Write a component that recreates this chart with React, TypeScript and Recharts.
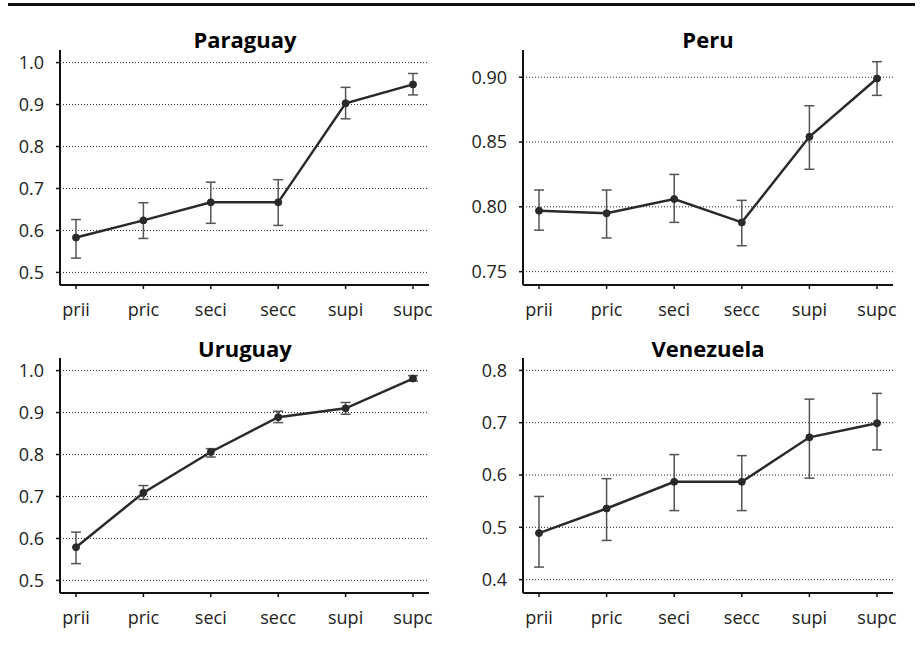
import React from 'react';
import { LineChart, Line, XAxis, YAxis, CartesianGrid, ErrorBar } from 'recharts';

const categories = ['prii', 'pric', 'seci', 'secc', 'supi', 'supc'];

const paraguayMean = [0.583, 0.624, 0.667, 0.667, 0.903, 0.948];
const paraguayLow = [0.534, 0.581, 0.617, 0.612, 0.866, 0.923];
const paraguayHigh = [0.626, 0.666, 0.715, 0.721, 0.941, 0.974];

const peruMean = [0.797, 0.795, 0.806, 0.788, 0.854, 0.899];
const peruLow = [0.782, 0.776, 0.788, 0.77, 0.829, 0.886];
const peruHigh = [0.813, 0.813, 0.825, 0.805, 0.878, 0.912];

const uruguayMean = [0.579, 0.709, 0.806, 0.889, 0.91, 0.981];
const uruguayLow = [0.54, 0.693, 0.794, 0.876, 0.896, 0.975];
const uruguayHigh = [0.615, 0.726, 0.814, 0.903, 0.924, 0.988];

const venezuelaMean = [0.489, 0.536, 0.587, 0.587, 0.672, 0.699];
const venezuelaLow = [0.424, 0.475, 0.532, 0.532, 0.594, 0.648];
const venezuelaHigh = [0.559, 0.593, 0.639, 0.637, 0.745, 0.756];

const ticksTenths = [0.5, 0.6, 0.7, 0.8, 0.9, 1.0];
const ticksPeru = [0.75, 0.8, 0.85, 0.9];
const ticksVenezuela = [0.4, 0.5, 0.6, 0.7, 0.8];

const FONT = "'Open Sans', sans-serif";
const INK = '#2a2a2a';

function build(mean: number[], low: number[], high: number[]) {
  return categories.map((c, i) => ({
    cat: c,
    value: mean[i],
    err: [mean[i] - low[i], high[i] - mean[i]],
  }));
}

type Panel = {
  title: string;
  data: any[];
  domain: [number, number];
  ticks: number[];
  digits: number;
  left: number;
  top: number;
  width: number;
  height: number;
  margin: { top: number; right: number; bottom: number; left: number };
  yWidth: number;
  titleX: number;
  titleY: number;
};

const panels: Panel[] = [
  {
    title: 'Paraguay',
    data: build(paraguayMean, paraguayLow, paraguayHigh),
    domain: [0.47, 1.03],
    ticks: ticksTenths,
    digits: 1,
    left: 0,
    top: 0,
    width: 460,
    height: 320,
    margin: { top: 50, right: 31, bottom: 5, left: 0 },
    yWidth: 60,
    titleX: 245,
    titleY: 48,
  },
  {
    title: 'Peru',
    data: build(peruMean, peruLow, peruHigh),
    domain: [0.7397, 0.921],
    ticks: ticksPeru,
    digits: 2,
    left: 460,
    top: 0,
    width: 461,
    height: 320,
    margin: { top: 50, right: 28, bottom: 5, left: 0 },
    yWidth: 63,
    titleX: 708,
    titleY: 48,
  },
  {
    title: 'Uruguay',
    data: build(uruguayMean, uruguayLow, uruguayHigh),
    domain: [0.47, 1.03],
    ticks: ticksTenths,
    digits: 1,
    left: 0,
    top: 320,
    width: 460,
    height: 325,
    margin: { top: 38, right: 31, bottom: 22, left: 0 },
    yWidth: 60,
    titleX: 245,
    titleY: 357,
  },
  {
    title: 'Venezuela',
    data: build(venezuelaMean, venezuelaLow, venezuelaHigh),
    domain: [0.3745, 0.8236],
    ticks: ticksVenezuela,
    digits: 1,
    left: 460,
    top: 320,
    width: 461,
    height: 325,
    margin: { top: 38, right: 28, bottom: 22, left: 0 },
    yWidth: 63,
    titleX: 708,
    titleY: 357,
  },
];

const tickStyle = { fontFamily: FONT, fontSize: 18, fill: '#222' };

function PanelChart({ p }: { p: Panel }) {
  const gridGen = (props: any) => {
    const yAxis = props && props.yAxis;
    if (yAxis && typeof yAxis.scale === 'function') {
      return p.ticks.map((t) => yAxis.scale(t));
    }
    const off = props.offset;
    return p.ticks.map(
      (t) => off.top + ((p.domain[1] - t) / (p.domain[1] - p.domain[0])) * off.height
    );
  };
  return (
    <div style={{ position: 'absolute', left: p.left, top: p.top }}>
      <LineChart width={p.width} height={p.height} data={p.data} margin={p.margin}>
        <CartesianGrid
          vertical={false}
          horizontal
          stroke="#222"
          strokeDasharray="1 2"
          strokeWidth={1}
          horizontalCoordinatesGenerator={gridGen}
        />
        <XAxis
          dataKey="cat"
          type="category"
          interval={0}
          padding={{ left: 16, right: 16 }}
          height={30}
          tickSize={4}
          tickMargin={14}
          axisLine={{ stroke: '#111', strokeWidth: 2 }}
          tickLine={{ stroke: '#111', strokeWidth: 1.5 }}
          tick={tickStyle}
        />
        <YAxis
          type="number"
          domain={p.domain}
          ticks={p.ticks}
          allowDataOverflow
          interval={0}
          width={p.yWidth}
          tickSize={4}
          tickMargin={12}
          axisLine={{ stroke: '#111', strokeWidth: 2 }}
          tickLine={{ stroke: '#111', strokeWidth: 1.5 }}
          tick={tickStyle}
          tickFormatter={(v: number) => v.toFixed(p.digits)}
        />
        <Line
          type="linear"
          dataKey="value"
          stroke={INK}
          strokeWidth={2.5}
          dot={{ r: 3.5, fill: INK, stroke: INK, strokeWidth: 1 }}
          isAnimationActive={false}
        >
          <ErrorBar dataKey="err" width={5} stroke="#555" strokeWidth={1.5} direction="y" isAnimationActive={false} />
        </Line>
      </LineChart>
    </div>
  );
}

export default function App() {
  return (
    <div style={{ position: 'absolute', left: 0, top: 0, width: 921, height: 645, background: '#fff' }}>
      {panels.map((p) => (
        <PanelChart key={p.title} p={p} />
      ))}
      <svg
        width={921}
        height={645}
        style={{ position: 'absolute', left: 0, top: 0, pointerEvents: 'none' }}
      >
        <line x1={8} y1={4.5} x2={915} y2={4.5} stroke="#111" strokeWidth={3} />
        {panels.map((p) => (
          <text
            key={p.title}
            x={p.titleX}
            y={p.titleY}
            textAnchor="middle"
            fontFamily={FONT}
            fontWeight="bold"
            fontSize={22}
            fill="#000"
          >
            {p.title}
          </text>
        ))}
      </svg>
    </div>
  );
}
